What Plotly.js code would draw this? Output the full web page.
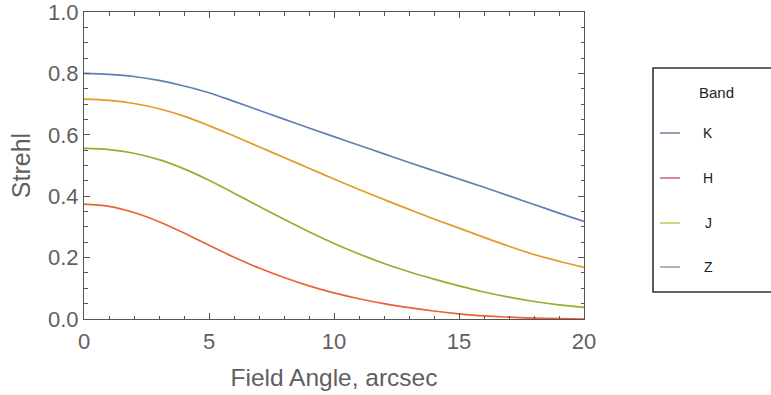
<!DOCTYPE html>
<html><head><meta charset="utf-8">
<script src="https://cdn.plot.ly/plotly-3.0.1.min.js"></script>
<style>html,body{margin:0;padding:0;background:#fff}</style>
</head><body><div id="chart" style="width:771px;height:395px"></div>
<script>
// Data
const fieldAngle = [0,1,2,3,4,5,6,7,8,9,10,11,12,13,14,15,16,17,18,19,20];
const strehlBlue   = [0.800,0.797,0.790,0.777,0.759,0.737,0.709,0.680,0.651,0.622,0.594,0.566,0.538,0.510,0.483,0.456,0.429,0.401,0.373,0.345,0.318];
const strehlOrange = [0.716,0.712,0.702,0.685,0.661,0.630,0.596,0.561,0.526,0.491,0.456,0.422,0.389,0.357,0.326,0.296,0.266,0.237,0.210,0.188,0.168];
const strehlGreen  = [0.556,0.552,0.540,0.519,0.489,0.452,0.410,0.367,0.325,0.284,0.246,0.212,0.181,0.154,0.130,0.108,0.088,0.071,0.057,0.046,0.038];
const strehlRed    = [0.374,0.367,0.347,0.317,0.280,0.240,0.201,0.166,0.135,0.108,0.085,0.066,0.050,0.037,0.026,0.017,0.010,0.006,0.003,0.001,0.000];
const curveSeries = [strehlBlue, strehlOrange, strehlGreen, strehlRed];
const curveColors = ["#5E81B5", "#E19C24", "#8FB032", "#EB6235"];

const legendTitle = "Band";
const legendLabels = ["K", "H", "J", "Z"];
const legendColors = ["#7c86ab", "#cc6a8a", "#c6c85e", "#88a9a9"];

const xTickVals = [0, 5, 10, 15, 20];
const xTickText = ["0", "5", "10", "15", "20"];
const yTickVals = [0, 0.2, 0.4, 0.6, 0.8, 1.0];
const yTickText = ["0.0", "0.2", "0.4", "0.6", "0.8", "1.0"];
const xTitle = "Field Angle, arcsec";
const yTitle = "Strehl";

const traces = curveSeries.map((ys, i) => ({
  x: fieldAngle, y: ys, type: "scatter", mode: "lines",
  line: {color: curveColors[i], width: 1.7, shape: "spline", smoothing: 1},
  showlegend: false, hoverinfo: "skip"
}));

// manual legend box (positions in paper coordinates)
const px2x = p => (p - 84) / 500;
const px2y = p => (319 - p) / 307;
const rowY = [133, 178, 223, 267];
const shapes = [{
  type: "rect", xref: "paper", yref: "paper",
  x0: px2x(653), x1: px2x(900), y0: px2y(292), y1: px2y(68),
  line: {color: "#333", width: 1.6}, fillcolor: "rgba(0,0,0,0)"
}];
const annotations = [{
  xref: "paper", yref: "paper", x: px2x(716), y: px2y(92),
  text: legendTitle, showarrow: false, xanchor: "center", yanchor: "middle",
  font: {family: "Liberation Sans, Arial, sans-serif", size: 15, color: "#222"}
}];
legendLabels.forEach((lab, i) => {
  shapes.push({
    type: "line", xref: "paper", yref: "paper",
    x0: px2x(660), x1: px2x(680), y0: px2y(rowY[i]), y1: px2y(rowY[i]),
    line: {color: legendColors[i], width: 1.6}
  });
  annotations.push({
    xref: "paper", yref: "paper", x: px2x(708), y: px2y(rowY[i]),
    text: lab, showarrow: false, xanchor: "center", yanchor: "middle",
    font: {family: "Liberation Sans, Arial, sans-serif", size: 14, color: "#222"}
  });
});

const tickFont = {family: "Liberation Sans, Arial, sans-serif", size: 22, color: "#5f5f5f"};

const layout = {
  width: 771, height: 395,
  margin: {l: 84, r: 187, t: 12, b: 76, pad: 0},
  paper_bgcolor: "#fff", plot_bgcolor: "#fff",
  showlegend: false,
  xaxis: {
    range: [0, 20], showgrid: false, zeroline: false,
    showline: true, linecolor: "#555", linewidth: 1, mirror: "ticks",
    ticks: "inside", ticklen: 6, tickwidth: 1, tickcolor: "#555",
    tickvals: xTickVals, ticktext: xTickText, tickfont: tickFont,
    ticklabeloverflow: "allow", ticklabelstandoff: 3,
    minor: {dtick: 1, ticks: "inside", ticklen: 3.5, tickcolor: "#555", tickwidth: 1, showgrid: false},
    title: {text: xTitle, font: {family: "Liberation Sans, Arial, sans-serif", size: 24.5, color: "#5f5f5f"}, standoff: 15}
  },
  yaxis: {
    range: [0, 1], showgrid: false, zeroline: false,
    showline: true, linecolor: "#555", linewidth: 1, mirror: "ticks",
    ticks: "inside", ticklen: 6, tickwidth: 1, tickcolor: "#555",
    tickvals: yTickVals, ticktext: yTickText, tickfont: tickFont,
    ticklabeloverflow: "allow",
    minor: {dtick: 0.05, ticks: "inside", ticklen: 3.5, tickcolor: "#555", tickwidth: 1, showgrid: false},
    title: {text: yTitle, font: {family: "Liberation Sans, Arial, sans-serif", size: 25, color: "#5f5f5f"}, standoff: 10}
  },
  shapes: shapes,
  annotations: annotations
};

Plotly.newPlot("chart", traces, layout, {staticPlot: true, displayModeBar: false});
</script>
</body></html>
